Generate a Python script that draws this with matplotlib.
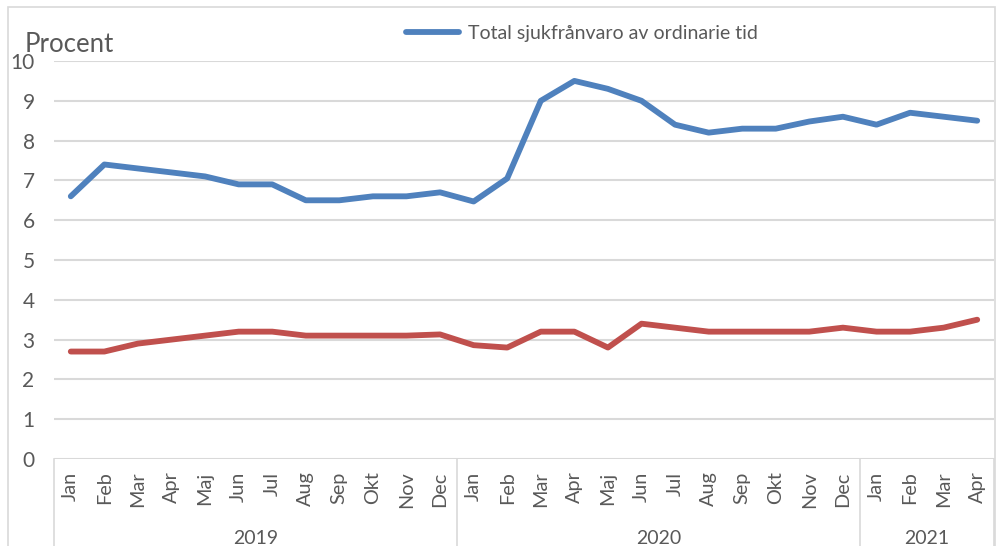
import matplotlib
matplotlib.use("Agg")
import matplotlib.pyplot as plt
import matplotlib.transforms as mtransforms
from matplotlib.patches import Rectangle

plt.rcParams['font.family'] = ['Lato', 'DejaVu Sans']

months = ['Jan', 'Feb', 'Mar', 'Apr', 'Maj', 'Jun', 'Jul', 'Aug', 'Sep', 'Okt', 'Nov', 'Dec',
          'Jan', 'Feb', 'Mar', 'Apr', 'Maj', 'Jun', 'Jul', 'Aug', 'Sep', 'Okt', 'Nov', 'Dec',
          'Jan', 'Feb', 'Mar', 'Apr']
years = ['2019', '2020', '2021']
year_len = [12, 12, 4]

total = [6.6, 7.4, 7.3, 7.2, 7.1, 6.9, 6.9, 6.5, 6.5, 6.6, 6.6, 6.7,
         6.47, 7.05, 9.0, 9.5, 9.3, 9.0, 8.4, 8.2, 8.3, 8.3, 8.48, 8.6,
         8.4, 8.7, 8.6, 8.5]
other = [2.7, 2.7, 2.9, 3.0, 3.1, 3.2, 3.2, 3.1, 3.1, 3.1, 3.1, 3.13,
         2.86, 2.8, 3.2, 3.2, 2.8, 3.4, 3.3, 3.2, 3.2, 3.2, 3.2, 3.3,
         3.2, 3.2, 3.3, 3.5]

blue = '#4F81BD'
red = '#C0504D'
grid = '#D9D9D9'
txt = '#595959'

fig = plt.figure(figsize=(9.98, 5.46), dpi=100)
ax = fig.add_axes([54/998, 1 - 459/546, 940/998, 398/546])

x = list(range(len(months)))
ax.plot(x, total, color=blue, lw=4.2, solid_capstyle='round', solid_joinstyle='round',
        label='Total sjukfrånvaro av ordinarie tid', zorder=3)
ax.plot(x, other, color=red, lw=4.2, solid_capstyle='round', solid_joinstyle='round', zorder=3)

ax.set_xlim(-0.5, len(months) - 0.5)
ax.set_ylim(0, 10)
ax.set_yticks(range(0, 11))
for s in ax.spines.values():
    s.set_visible(False)
ax.yaxis.grid(True, color=grid, lw=1.5)
ax.set_axisbelow(True)
ax.tick_params(axis='y', length=0, labelsize=15, labelcolor=txt, pad=14)
ax.set_xticks(x)
ax.set_xticklabels(months, rotation=90, fontsize=14.3, color=txt)
ax.tick_params(axis='x', length=0, pad=9)

# year group labels and separators
trans = mtransforms.blended_transform_factory(ax.transData, ax.transAxes)
start = -0.5
ax.plot([start, start], [0, -0.25], color=grid, lw=1.2, transform=trans, clip_on=False)
for yr, n in zip(years, year_len):
    end = start + n
    ax.plot([end, end], [0, -0.25], color=grid, lw=1.2, transform=trans, clip_on=False)
    ax.text((start + end) / 2, -0.2, yr, transform=trans, ha='center', va='center',
            fontsize=14, color=txt)
    start = end

fig.text(25/998, 1 - 45/546, 'Procent', fontsize=18.5, color=txt, va='center', ha='left')

leg = ax.legend(loc='center', bbox_to_anchor=(582/998, 1 - 33/546),
                bbox_transform=fig.transFigure, frameon=False, fontsize=14,
                handlelength=2.7, handletextpad=0.45)
for t in leg.get_texts():
    t.set_color(txt)

fig.patches.append(Rectangle((8/998, -0.1), 987/998, 1.1 - 7/546, transform=fig.transFigure,
                             fill=False, edgecolor=grid, lw=1.2))

fig.savefig('out.png', dpi=100)
